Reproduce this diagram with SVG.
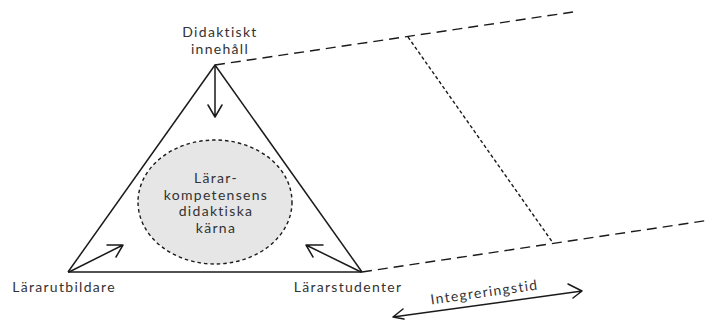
<svg xmlns="http://www.w3.org/2000/svg" width="711" height="320" viewBox="0 0 711 320">
<style>
.t{font-family:Lato,"Open Sans","Liberation Sans",sans-serif;font-size:14px;letter-spacing:1.3px;fill:#333;}
.c{text-anchor:middle;}
.edge{stroke:#1a1a1a;stroke-width:1.5;fill:none;}
.dash{stroke:#1a1a1a;stroke-width:1.4;fill:none;stroke-dasharray:10 6;}
.dot{stroke:#1a1a1a;stroke-width:1.4;fill:none;stroke-dasharray:3.5 2.5;}
.arr{stroke:#1a1a1a;stroke-width:1.5;fill:none;stroke-linecap:round;stroke-linejoin:round;}
</style>
<rect width="711" height="320" fill="#fff"/>
<g id="connectors">
<path class="dash" d="M215,65 L573,12"/>
<path class="dash" d="M362,272 L710,220"/>
<path class="dot" d="M408,37 L553,243"/>
<path class="edge" d="M215,65 L68,272"/>
<path class="edge" d="M215,65 L362,272"/>
<path class="edge" d="M68,272 L362,272" stroke="#444" stroke-width="2"/>
<path class="arr" d="M215,65 L215,117 M208,105 L215,117 L222,105"/>
<path class="arr" d="M69,272 L123,245 M107,245 L123,245 L116,257"/>
<path class="arr" d="M361,272 L306,245 M323,245 L306,245 L313,257"/>
<path class="arr" d="M393,317 L582,291 M568,284 L582,291 L573,298 M403,309 L393,317 L404,319"/>
</g>
<g id="core">
<ellipse cx="215" cy="202" rx="77" ry="62" fill="#e6e6e6" stroke="#1a1a1a" stroke-width="1.4" stroke-dasharray="3.5 3"/>
<text class="t c" x="216" y="183">Lärar-</text>
<text class="t c" x="216" y="199.5">kompetensens</text>
<text class="t c" x="216" y="216">didaktiska</text>
<text class="t c" x="216" y="232.5">kärna</text>
</g>
<g id="didaktiskt">
<text class="t c" x="220" y="37">Didaktiskt</text>
<text class="t c" x="220" y="54">innehåll</text>
</g>
<g id="lararutbildare">
<text class="t c" x="64" y="292">Lärarutbildare</text>
</g>
<g id="lararstudenter">
<text class="t c" x="348" y="292">Lärarstudenter</text>
</g>
<g id="integreringstid">
<text class="t c" x="485" y="297" transform="rotate(-8 485 297)">Integreringstid</text>
</g>
</svg>
